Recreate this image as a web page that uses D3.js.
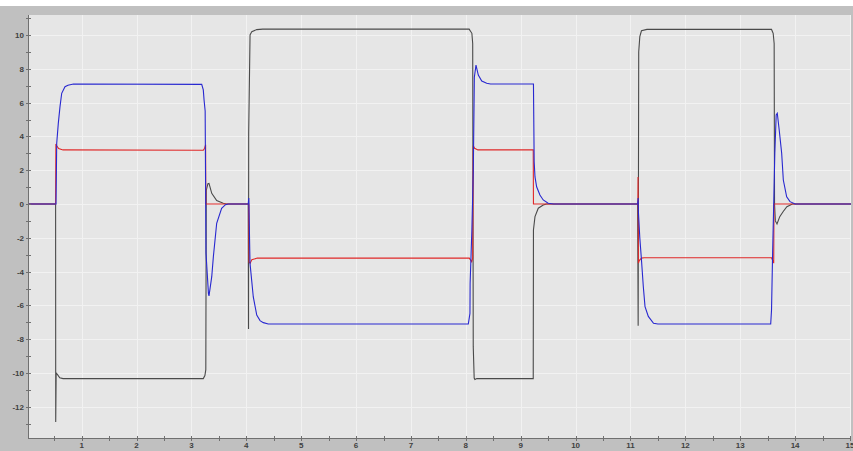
<!DOCTYPE html>
<html><head><meta charset="utf-8">
<script src="https://cdn.jsdelivr.net/npm/d3@7"></script>
<style>html,body{margin:0;padding:0;background:#fff;}svg{display:block;}</style>
</head><body>
<svg id="chart" width="853" height="451"></svg>
<script>
// ---- data (time, value) ----
const blackSeries = [
  [0,0],[0.525,0],[0.527,-12.9],[0.535,-10.0],[0.56,-10.1],[0.6,-10.28],[0.66,-10.33],
  [3.216,-10.33],[3.245,-10.15],[3.262,-9.8],[3.27,0.8],[3.3,1.2],[3.32,1.22],
  [3.37,0.63],[3.46,0.2],[3.58,0.05],[3.63,0],
  [4.035,0],[4.04,-7.4],[4.043,4.2],[4.068,10.0],[4.1,10.2],[4.19,10.32],[4.3,10.35],
  [8.06,10.35],[8.11,10.1],[8.125,9.5],[8.135,-8.44],[8.152,-10.3],[8.165,-10.38],[8.2,-10.33],
  [9.228,-10.33],[9.232,-1.54],[9.26,-0.75],[9.32,-0.25],[9.41,-0.06],[9.47,0],
  [11.13,0],[11.14,-7.2],[11.15,9.0],[11.17,9.9],[11.2,10.25],[11.3,10.33],
  [13.57,10.33],[13.6,10.1],[13.618,9.5],[13.625,0],[13.64,-1.0],[13.67,-1.18],
  [13.72,-0.75],[13.78,-0.46],[13.85,-0.16],[13.95,0],[15.1,0]
];
const blueSeries = [
  [0,0],[0.532,0],[0.545,3.6],[0.574,4.77],[0.605,5.76],[0.636,6.55],[0.696,6.94],
  [0.75,7.03],[0.85,7.1],
  [3.187,7.08],[3.216,6.75],[3.23,6.15],[3.25,5.5],[3.265,-2.9],[3.31,-5.3],[3.32,-5.44],
  [3.37,-4.3],[3.4,-3.1],[3.46,-1.14],[3.55,-0.26],[3.62,-0.04],[3.67,0],
  [4.035,0],[4.045,0.35],[4.05,-0.5],[4.067,-3.5],[4.127,-5.5],[4.19,-6.57],[4.25,-6.9],
  [4.31,-7.02],[4.4,-7.1],
  [8.045,-7.1],[8.075,-6.47],[8.078,-4.7],[8.11,-1.54],[8.136,2.0],[8.155,7.5],[8.185,8.22],
  [8.227,7.63],[8.29,7.28],[8.38,7.14],[8.45,7.1],
  [9.232,7.1],[9.245,2.5],[9.26,1.6],[9.29,1.02],[9.35,0.53],[9.41,0.24],[9.5,0.04],[9.6,0],
  [11.13,0],[11.14,0.35],[11.145,-0.5],[11.17,-2.0],[11.2,-3.3],[11.234,-4.9],[11.265,-6.08],
  [11.325,-6.65],[11.42,-7.06],[11.5,-7.1],
  [13.555,-7.1],[13.57,-6.27],[13.59,-2.9],[13.61,0],[13.63,3.0],[13.655,5.27],[13.675,5.37],
  [13.71,4.38],[13.755,3.0],[13.785,1.42],[13.846,0.43],[13.907,0.14],[14.0,0],[15.1,0]
];
const redSeries = [
  [0,0],[0.525,0],[0.53,3.55],[0.545,3.45],[0.58,3.28],[0.66,3.2],
  [3.216,3.18],[3.24,3.3],[3.258,3.5],[3.262,0],
  [4.045,0],[4.05,-3.45],[4.07,-3.5],[4.1,-3.3],[4.2,-3.2],
  [8.063,-3.2],[8.106,-3.41],[8.125,-3.2],[8.135,3.45],[8.16,3.3],[8.22,3.2],
  [9.228,3.2],[9.232,0],
  [11.135,0],[11.138,1.6],[11.145,-3.5],[11.16,-3.35],[11.2,-3.2],[11.25,-3.18],
  [13.57,-3.18],[13.61,-3.5],[13.615,0],[15.1,0]
];
const xMajorTicks = [1,2,3,4,5,6,7,8,9,10,11,12,13,14,15];
const xMinorTicks = [0.5,1.5,2.5,3.5,4.5,5.5,6.5,7.5,8.5,9.5,10.5,11.5,12.5,13.5,14.5];
const yMajorTicks = [-12,-10,-8,-6,-4,-2,0,2,4,6,8,10];
const yMinorTicks = [-13,-11,-9,-7,-5,-3,-1,1,3,5,7,9,11];

// ---- layout ----
const W = 853, H = 451;
const plot = {left: 28, top: 15, right: 851, bottom: 438};
const svg = d3.select("#chart");

const x = d3.scaleLinear().domain([0, 15]).range([26.8, 850]);
const y = d3.scaleLinear().domain([-12, 10]).range([406.8, 35]);

// backgrounds
svg.append("rect").attr("x",0).attr("y",0).attr("width",W).attr("height",H).attr("fill","#ffffff");
svg.append("rect").attr("x",0).attr("y",6).attr("width",W).attr("height",H-6).attr("fill","#c0c0c0");
svg.append("rect").attr("x",plot.left).attr("y",plot.top)
  .attr("width",plot.right-plot.left).attr("height",plot.bottom-plot.top).attr("fill","#e6e6e6");

// grid
const grid = svg.append("g").attr("stroke","#f2f2f2").attr("stroke-width",1);
grid.selectAll("line.gx").data(xMajorTicks).join("line")
  .attr("x1",d=>Math.round(x(d))+0.5).attr("x2",d=>Math.round(x(d))+0.5)
  .attr("y1",plot.top).attr("y2",plot.bottom);
grid.selectAll("line.gy").data(yMajorTicks).join("line")
  .attr("y1",d=>Math.round(y(d))+0.5).attr("y2",d=>Math.round(y(d))+0.5)
  .attr("x1",plot.left).attr("x2",plot.right);

// clip
svg.append("clipPath").attr("id","clip").append("rect")
  .attr("x",plot.left).attr("y",plot.top)
  .attr("width",plot.right-plot.left).attr("height",plot.bottom-plot.top);

const line = d3.line().x(d=>x(d[0])).y(d=>y(d[1]));
const lines = svg.append("g").attr("clip-path","url(#clip)").attr("fill","none");
lines.append("path").datum(blackSeries).attr("d",line).attr("stroke","#4a4a4a").attr("stroke-width",1.1);
lines.append("path").datum(redSeries).attr("d",line).attr("stroke","#e02828").attr("stroke-width",1.1);
lines.append("path").datum(blueSeries).attr("d",line).attr("stroke","#2828d0").attr("stroke-width",1.1);

// axes lines
const axisColor = "#707070";
svg.append("line").attr("x1",plot.left+0.5).attr("x2",plot.left+0.5)
  .attr("y1",plot.top).attr("y2",plot.bottom+0.5).attr("stroke",axisColor);
svg.append("line").attr("x1",plot.left).attr("x2",plot.right)
  .attr("y1",plot.bottom+0.5).attr("y2",plot.bottom+0.5).attr("stroke",axisColor);

// y ticks
const yAxisG = svg.append("g");
yAxisG.selectAll("line.maj").data(yMajorTicks.concat(yMinorTicks)).join("line")
  .attr("x1",plot.left-2).attr("x2",plot.left+3)
  .attr("y1",d=>Math.round(y(d))+0.5).attr("y2",d=>Math.round(y(d))+0.5)
  .attr("stroke",axisColor);
yAxisG.selectAll("text").data(yMajorTicks).join("text")
  .attr("x",24).attr("y",d=>y(d)+3)
  .attr("text-anchor","end")
  .attr("font-family","Liberation Sans, Arial, sans-serif")
  .attr("font-size",8).attr("font-weight","bold").attr("fill","#404040")
  .text(d=>d);

// x ticks
const xAxisG = svg.append("g");
xAxisG.selectAll("line").data(xMajorTicks.concat(xMinorTicks)).join("line")
  .attr("x1",d=>Math.round(x(d))+0.5).attr("x2",d=>Math.round(x(d))+0.5)
  .attr("y1",plot.bottom-2).attr("y2",plot.bottom+3)
  .attr("stroke",axisColor);
xAxisG.selectAll("text").data(xMajorTicks).join("text")
  .attr("x",d=>x(d)).attr("y",448)
  .attr("text-anchor","middle")
  .attr("font-family","Liberation Sans, Arial, sans-serif")
  .attr("font-size",8).attr("font-weight","bold").attr("fill","#404040")
  .text(d=>d);
</script>
</body></html>
